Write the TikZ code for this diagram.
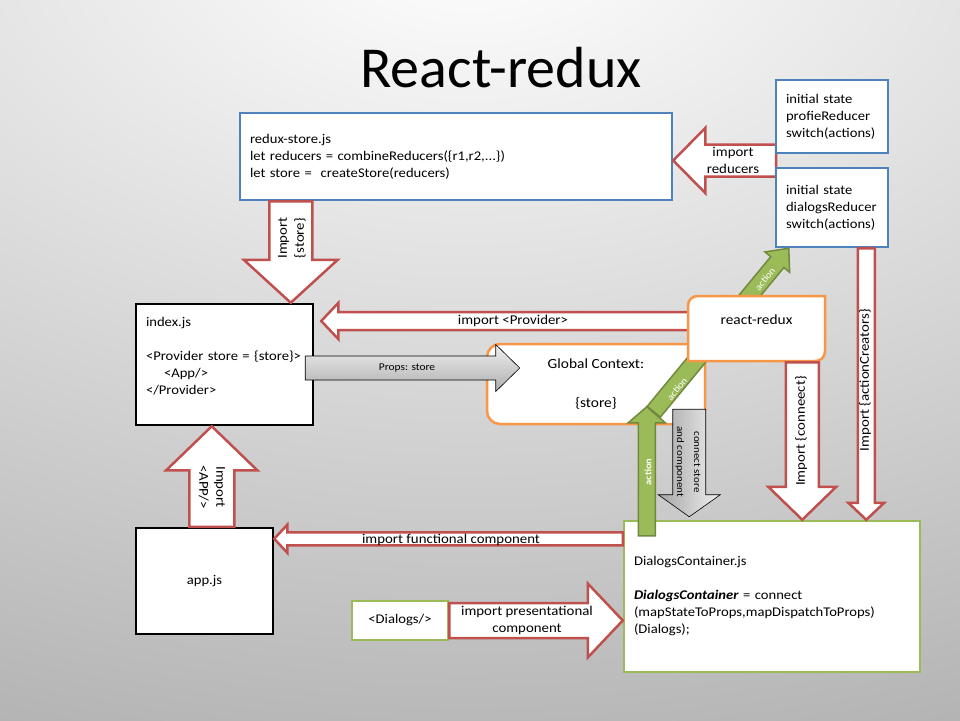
\documentclass[tikz,border=0pt]{standalone}
\usepackage{fontspec}
\setmainfont{Carlito}[FakeStretch=1.1]
\newfontfamily\titlefont{Carlito}
\usetikzlibrary{calc}
\definecolor{reduxred}{RGB}{192,80,77}
\definecolor{reduxblue}{RGB}{79,129,189}
\definecolor{ctxorange}{RGB}{247,150,70}
\definecolor{compgreen}{RGB}{155,187,89}
\definecolor{actiondark}{RGB}{113,137,63}

\begin{document}
\begin{tikzpicture}[x=1pt, y=-1pt, font=\fontsize{13.3}{17}\selectfont,
    filebox/.style={draw, fill=white, line width=2.5pt, align=left, inner xsep=10pt},
    lbl/.style={align=center, inner sep=0pt, font=\fontsize{13.5}{17}\selectfont},
    actlbl/.style={text=white, inner sep=0pt, font=\fontsize{9.5}{12}\selectfont},
    arw/.code args={#1/#2/#3}{\def\arwshaft{#1}\def\arwhead{#2}\def\arwlen{#3}},
    blockarrow/.style={to path={let \p1=(\tikztostart), \p2=(\tikztotarget),
        \n1={atan2(\y2-\y1,\x2-\x1)}, \p3=($(\p2)+({\n1+180}:\arwlen)$) in
        ($(\p1)+({\n1+90}:\arwshaft)$) -- ($(\p3)+({\n1+90}:\arwshaft)$)
        -- ($(\p3)+({\n1+90}:\arwhead)$) -- (\p2)
        -- ($(\p3)+({\n1-90}:\arwhead)$) -- ($(\p3)+({\n1-90}:\arwshaft)$)
        -- ($(\p1)+({\n1-90}:\arwshaft)$) -- cycle}},
    redarrow/.style={blockarrow, draw=reduxred, fill=white, line width=2.5pt},
    greenarrow/.style={blockarrow, draw=actiondark, fill=compgreen, line width=1.5pt},
    grayarrow/.style={blockarrow, draw=black, line width=.6pt}]

\useasboundingbox (0,0) rectangle (960,720);
\begin{scope}
  \clip (0,0) rectangle (960,720);
  \shade[inner color=white, outer color=black!54] (470,-60) ellipse (2600pt and 1520pt);
\end{scope}

\node[font=\titlefont\fontsize{58}{62}\selectfont] (title) at (501,68) {React-redux};

% store and reducers
\node[filebox, draw=reduxblue, text width=412pt, minimum height=87pt] (store) at (456,156.5)
  {redux-store.js\\let reducers = combineReducers(\{r1,r2,...\})\\let store = \ createStore(reducers)};
\coordinate (rgap) at (776,160.5);
\coordinate (rtip) at (store.east |- rgap);
\draw[redarrow, arw={16pt/32.5pt/32pt}] (rgap) to (rtip)
  node[lbl] at (733,160) {import\\reducers};
\node[filebox, draw=reduxblue, text width=92pt, minimum height=73pt] (profile) at (832,116.5)
  {initial state\\profieReducer\\switch(actions)};
\node[filebox, draw=reduxblue, text width=92pt, minimum height=79pt] (dialogsred) at (832,207.5)
  {initial state\\dialogsReducer\\switch(actions)};

% index.js
\node[filebox, draw=black, text width=157pt, minimum height=121pt] (index) at (224.5,364.5)
  {index.js\\ \mbox{}\\\mbox{<Provider store = \{store\}>}\\\hspace*{18pt}<App/>\\</Provider>\\ \mbox{}};
\coordinate (storeout) at ($(store.south west)+(52,0)$);
\coordinate (storein) at (storeout |- index.north);
\draw[redarrow, arw={21.5pt/47pt/43pt}] (storeout) to (storein)
  node[lbl, rotate=90] at (292,238) {Import\\\{store\}};

\node[draw=ctxorange, line width=2.5pt, fill=white, rounded corners=13pt, minimum width=218pt,
  minimum height=80pt, align=center, font=\fontsize{14}{19.5}\selectfont] (ctx) at (596,384)
  {Global Context:\\ \mbox{}\\\{store\}};

\coordinate (provout) at (698,321);
\coordinate (provin) at ($(index.east |- provout)+(7,0)$);
\draw[redarrow, arw={9pt/18pt/17pt}] (provout) to (provin)
  node[lbl] at (513,321) {import <Provider>};

\node[filebox, draw=compgreen, text width=276pt, minimum height=151pt] (container) at (772,596.5)
  {DialogsContainer.js\\ \mbox{}\\\textbf{\textit{DialogsContainer}} = connect\\(mapStateToProps,mapDispatchToProps)\\(Dialogs);};

\coordinate (propsout) at ($(index.east)+(-9,3.5)$);
\coordinate (propsin) at ($(ctx.west |- propsout)+(34,0)$);
\draw[grayarrow, top color=black!6, bottom color=black!32, arw={12pt/23.5pt/24pt}] (propsout) to (propsin)
  node[lbl, font=\fontsize{10.4}{12}\selectfont] at (407,368) {Props: store};

% actions
\coordinate (acttip) at ($(container.north west)+(24,-113)$);
\coordinate (actfoot) at ($(container.north west)+(24,16)$);
\coordinate (diagout) at ($(acttip)+(7,5)$);
\coordinate (diagin) at ($(dialogsred.south west)+(14,0)$);
\draw[greenarrow, arw={8.5pt/16pt/18pt}] (diagout) to (diagin)
  node[actlbl, rotate=51] at (677,389) {action}
  node[actlbl, rotate=51] at (765,279) {action};

\draw[draw=ctxorange, line width=2.5pt, fill=white] (688,361) -- (688,306)
  .. controls (688,300) and (692,296) .. (698,296) -- (825,296) -- (825,351)
  .. controls (825,357) and (821,361) .. (815,361) -- cycle
  (756.5,328.5) node[minimum width=137pt, minimum height=65pt, align=center,
  font=\fontsize{14}{17}\selectfont] (reactredux) {react-redux\\ \mbox{}};

\draw[greenarrow, arw={8.5pt/18.5pt/16pt}] (actfoot) to (acttip)
  node[actlbl, rotate=90, font={\fontsize{9.5}{12}\selectfont\bfseries}] at (648,472) {action};

\coordinate (connout) at ($(ctx.south east)+(-17,-16)$);
\coordinate (connin) at ($(connout |- container.north)+(0,-3)$);
\draw[grayarrow, left color=black!35, right color=black!6, arw={16.5pt/31pt/22pt}] (connout) to (connin)
  node[lbl, rotate=-90, font=\fontsize{10}{17}\selectfont] at (688,462) {connect store\\and component};

\coordinate (connectout) at ($(reactredux.south east)+(-24,0)$);
\coordinate (connectin) at (connectout |- container.north);
\draw[redarrow, arw={16.5pt/34pt/33pt}] (connectout) to (connectin)
  node[lbl, rotate=90] at (801,431) {Import \{conneect\}};

\coordinate (creatorsout) at ($(dialogsred.south east)+(-23,0)$);
\coordinate (creatorsin) at (creatorsout |- container.north);
\draw[redarrow, arw={8.5pt/18pt/17pt}] (creatorsout) to (creatorsin)
  node[lbl, rotate=90] at (865,380) {Import \{actionCreators\}};

% app.js and dialogs
\node[filebox, draw=black, minimum width=137pt, minimum height=106pt, align=center] (app) at (204.5,581) {app.js};
\coordinate (appout) at ($(app.north west)+(77,0)$);
\coordinate (appin) at (appout |- index.south);
\draw[redarrow, arw={22.5pt/45.5pt/44pt}] (appout) to (appin)
  node[lbl, rotate=-90] at (212,487) {Import\\<APP/>};

\coordinate (funcout) at ($(container.north west)+(0,19)$);
\coordinate (funcin) at (app.east |- funcout);
\draw[redarrow, arw={6.5pt/14pt/13pt}] (funcout) to (funcin)
  node[lbl] at (451,540) {import functional component};

\node[filebox, draw=compgreen, minimum width=96pt, minimum height=39pt, align=center] (dialogs) at (400,620.5) {<Dialogs/>};
\coordinate (presout) at (dialogs.east);
\coordinate (presin) at (container.west |- dialogs.east);
\draw[redarrow, arw={17.5pt/37pt/35pt}] (presout) to (presin)
  node[lbl] at (527,620) {import presentational\\component};
\end{tikzpicture}
\end{document}
